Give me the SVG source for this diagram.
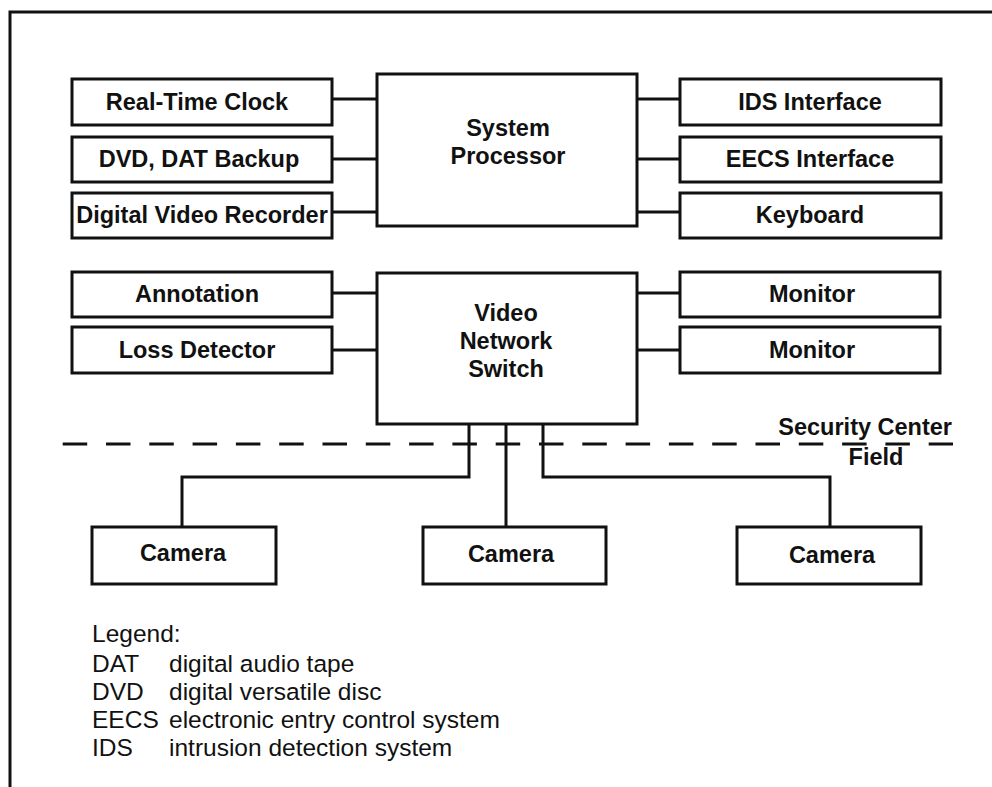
<svg xmlns="http://www.w3.org/2000/svg" width="992" height="787" viewBox="0 0 992 787">
<style>
.box{fill:#fff;stroke:#111;stroke-width:3}
.ln{fill:none;stroke:#111;stroke-width:3}
.lbl{font-family:"Liberation Sans",Arial,sans-serif;font-weight:bold;font-size:23.5px;fill:#111;text-anchor:middle}
.lg{font-family:"Liberation Sans",Arial,sans-serif;font-size:24.5px;fill:#111}
</style>
<rect width="992" height="787" fill="#fff"/>
<path class="ln" d="M10,787 V12 H992"/>
<g id="connectors">
<path class="ln" d="M332,99 H377 M332,159 H377 M332,212 H377"/>
<path class="ln" d="M637,99 H680 M637,159 H680 M637,212 H680"/>
<path class="ln" d="M332,293 H377 M332,350 H377"/>
<path class="ln" d="M637,293 H680 M637,350 H680"/>
<path class="ln" d="M469,424 V477 H182 V527"/>
<path class="ln" d="M506,424 V527"/>
<path class="ln" d="M543,424 V477 H830 V527"/>
</g>
<path id="boundary" class="ln" d="M62.7,444 H953" stroke-dasharray="24.5 18.8"/>
<g id="rtc"><rect class="box" x="72" y="79" width="260" height="46"/><text class="lbl" x="197" y="110">Real-Time Clock</text></g>
<g id="dvd"><rect class="box" x="72" y="137" width="260" height="45"/><text class="lbl" x="199" y="167">DVD, DAT Backup</text></g>
<g id="dvr"><rect class="box" x="72" y="193" width="260" height="45"/><text class="lbl" x="202" y="223">Digital Video Recorder</text></g>
<g id="sysproc"><rect class="box" x="377" y="74" width="260" height="152"/><text class="lbl" x="508" y="136">System</text><text class="lbl" x="508" y="164">Processor</text></g>
<g id="ids"><rect class="box" x="680" y="79" width="261" height="46"/><text class="lbl" x="810" y="110">IDS Interface</text></g>
<g id="eecs"><rect class="box" x="680" y="137" width="261" height="45"/><text class="lbl" x="810" y="167">EECS Interface</text></g>
<g id="keyboard"><rect class="box" x="680" y="193" width="261" height="45"/><text class="lbl" x="810" y="223">Keyboard</text></g>
<g id="annotation"><rect class="box" x="72" y="272" width="260" height="45"/><text class="lbl" x="197" y="302">Annotation</text></g>
<g id="loss"><rect class="box" x="72" y="327" width="260" height="46"/><text class="lbl" x="197" y="358">Loss Detector</text></g>
<g id="vns"><rect class="box" x="377" y="273" width="260" height="151"/><text class="lbl" x="506" y="321">Video</text><text class="lbl" x="506" y="349">Network</text><text class="lbl" x="506" y="377">Switch</text></g>
<g id="monitor1"><rect class="box" x="680" y="272" width="260" height="45"/><text class="lbl" x="812" y="302">Monitor</text></g>
<g id="monitor2"><rect class="box" x="680" y="327" width="260" height="46"/><text class="lbl" x="812" y="358">Monitor</text></g>
<g id="camera1"><rect class="box" x="92" y="527" width="184" height="57"/><text class="lbl" x="183" y="561">Camera</text></g>
<g id="camera2"><rect class="box" x="423" y="527" width="183" height="57"/><text class="lbl" x="511" y="562">Camera</text></g>
<g id="camera3"><rect class="box" x="737" y="527" width="184" height="57"/><text class="lbl" x="832" y="563">Camera</text></g>
<text class="lbl" x="952" y="435" style="text-anchor:end">Security Center</text>
<text class="lbl" x="876" y="465">Field</text>
<g id="legend" class="lg">
<text x="92" y="642">Legend:</text>
<text x="92" y="672">DAT</text><text x="169" y="672">digital audio tape</text>
<text x="92" y="700">DVD</text><text x="169" y="700">digital versatile disc</text>
<text x="92" y="728">EECS</text><text x="169" y="728">electronic entry control system</text>
<text x="92" y="756">IDS</text><text x="169" y="756">intrusion detection system</text>
</g>
</svg>
